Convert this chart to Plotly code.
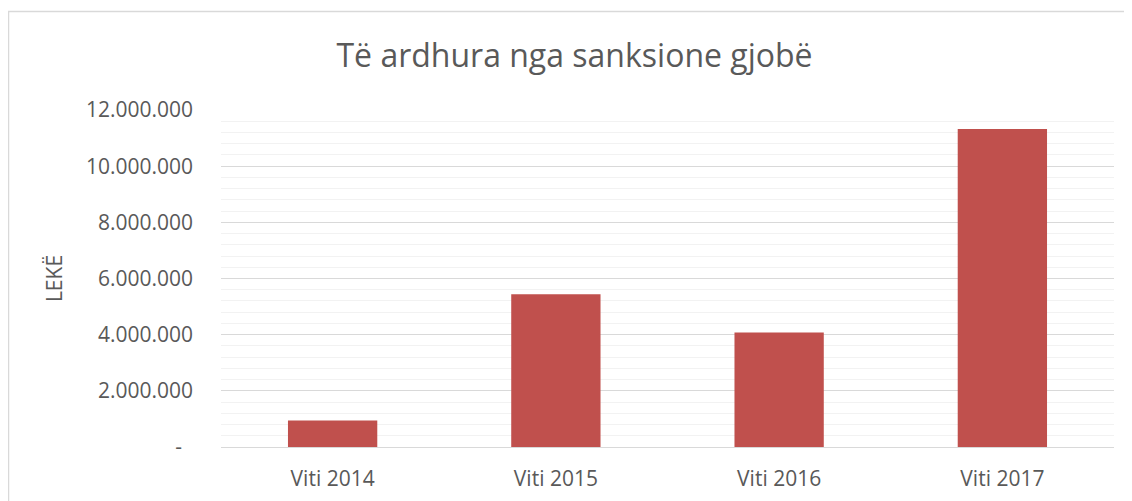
import plotly.graph_objects as go

categories = ["Viti 2014", "Viti 2015", "Viti 2016", "Viti 2017"]
values = [940000, 5440000, 4080000, 11320000]
tick_vals = [0, 2000000, 4000000, 6000000, 8000000, 10000000, 12000000]
tick_text = ["-\u00a0\u00a0", "2.000.000", "4.000.000", "6.000.000", "8.000.000", "10.000.000", "12.000.000"]

title_text = "Të ardhura nga sanksione gjobë"
y_title = "LEKË"

font_fam = "Open Sans"
text_col = "#595959"

fig = go.Figure(go.Bar(x=categories, y=values, marker=dict(color="#C0504D", line=dict(width=0))))

# page has an 8px body margin; figure coordinates = page coordinates - 8
W, H = 1124, 493
L, R, T, B = 213, 18, 102, 54
pw, ph = W - L - R, H - T - B

def px_x(p):
    return (p - L) / pw

def px_y(p):
    return (H - B - p) / ph

fig.update_layout(
    width=W, height=H,
    margin=dict(l=L, r=R, t=T, b=B, pad=0, autoexpand=False),
    paper_bgcolor="white", plot_bgcolor="white",
    bargap=0.6,
    showlegend=False,
    font=dict(family=font_fam, color=text_col, size=21),
    title=dict(text=title_text, x=566.5 / W, xanchor="center", xref="container",
               y=1 - 47.5 / H, yanchor="middle", yref="container", automargin=False,
               font=dict(family=font_fam, size=32, color=text_col)),
    xaxis=dict(showgrid=False, showline=False, zeroline=False, ticks="", automargin=False,
               tickfont=dict(size=21, color=text_col), ticklabelstandoff=17),
    yaxis=dict(range=[0, 12000000], tickvals=tick_vals, ticktext=tick_text, automargin=False,
               showgrid=True, gridcolor="#D9D9D9", gridwidth=1.3,
               zeroline=True, zerolinecolor="#D9D9D9", zerolinewidth=1.3,
               showline=False, ticks="", ticklabelstandoff=27,
               tickfont=dict(size=21, color=text_col),
               minor=dict(dtick=400000, tick0=0, showgrid=True, gridcolor="#F2F2F2", gridwidth=1.3),
               title=dict(text=y_title, standoff=17, font=dict(size=21, color=text_col))),
    shapes=[dict(type="rect", xref="paper", yref="paper",
                 x0=px_x(0.5), x1=px_x(1140), y0=px_y(520), y1=px_y(3.5),
                 line=dict(color="#D9D9D9", width=1.5), fillcolor="rgba(0,0,0,0)", layer="below")],
)

fig.write_html("out.html")
